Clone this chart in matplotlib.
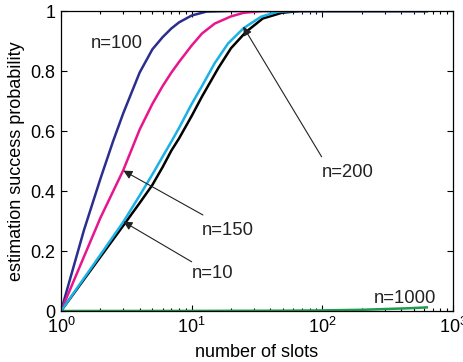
import matplotlib
matplotlib.use("Agg")
import matplotlib.pyplot as plt
from matplotlib.ticker import FixedLocator, LogLocator, NullFormatter

plt.rcParams['font.family'] = ['Liberation Sans', 'DejaVu Sans']
plt.rcParams['mathtext.fontset'] = 'custom'
plt.rcParams['mathtext.rm'] = 'Liberation Sans'
plt.rcParams['mathtext.it'] = 'Liberation Sans:italic'
plt.rcParams['mathtext.bf'] = 'Liberation Sans:bold'

# ---- data ----
blue_x = [1, 1.5, 2, 2.5, 3, 4, 5, 6, 7, 8, 10, 13, 20, 630]
blue_y = [0, 0.27, 0.44, 0.565, 0.66, 0.795, 0.872, 0.913, 0.942, 0.962, 0.985, 0.998, 1.0, 1.0]

magenta_x = [1, 2, 3, 4, 5, 6, 7, 8, 10, 12, 15, 20, 25, 35, 630]
magenta_y = [0, 0.31, 0.47, 0.605, 0.69, 0.75, 0.795, 0.83, 0.885, 0.925, 0.958, 0.982, 0.994, 1.0, 1.0]

black_x = [1, 2, 3, 4, 5, 6, 7, 8, 10, 12, 16, 20, 26, 35, 49, 67, 630]
black_y = [0, 0.18, 0.285, 0.36, 0.42, 0.48, 0.535, 0.575, 0.65, 0.715, 0.81, 0.876, 0.93, 0.975, 0.994, 1.0, 1.0]

cyan_x = [1, 2, 3, 4, 5, 6, 7, 8, 10, 12, 15, 19, 25, 34, 46, 60, 630]
cyan_y = [0, 0.187, 0.297, 0.385, 0.455, 0.515, 0.565, 0.61, 0.69, 0.75, 0.826, 0.892, 0.943, 0.981, 0.998, 1.0, 1.0]

green_x = [1, 10, 50, 100, 200, 300, 450, 630]
green_y = [0, 0.0003, 0.001, 0.002, 0.004, 0.0065, 0.009, 0.012]

y_ticks = [0, 0.2, 0.4, 0.6, 0.8, 1]
y_tick_labels = ['0', '0.2', '0.4', '0.6', '0.8', '1']
x_ticks = [1, 10, 100, 1000]
x_tick_labels = [r'$\mathregular{10^{0}}$', r'$\mathregular{10^{1}}$',
                 r'$\mathregular{10^{2}}$', r'$\mathregular{10^{3}}$']

labels = ['n=100', 'n=150', 'n=10', 'n=200', 'n=1000']
label_pos = [(1.687, 0.876), (11.9, 0.253), (10.0, 0.109), (99.3, 0.447), (248, 0.026)]
arrow_heads = [(24.8, 0.948), (3.0, 0.468), (3.0, 0.298)]
arrow_tails = [(98.8, 0.514), (12.2, 0.32), (10.0, 0.164)]

# ---- figure ----
fig = plt.figure(figsize=(4.63, 3.62), dpi=100)
ax = fig.add_axes([61/463, 51/362, 392/463, 300/362])

lw = 1.8
ax.plot(green_x, green_y, color='#1c9c4f', lw=lw)
ax.plot(blue_x, blue_y, color='#2b2e8c', lw=lw)
ax.plot(magenta_x, magenta_y, color='#e8168c', lw=lw)
ax.plot(black_x, black_y, color='black', lw=lw)
ax.plot(cyan_x, cyan_y, color='#19b1e6', lw=lw)

ax.set_xscale('log')
ax.set_xlim(1, 1000)
ax.set_ylim(0, 1)

ax.xaxis.set_major_locator(FixedLocator(x_ticks))
ax.set_xticklabels(x_tick_labels)
ax.xaxis.set_minor_locator(LogLocator(base=10, subs=range(2, 10)))
ax.xaxis.set_minor_formatter(NullFormatter())
ax.set_yticks(y_ticks)
ax.set_yticklabels(y_tick_labels)

ax.tick_params(which='both', direction='in', top=True, right=True,
               labelsize=13, width=0.8, colors='black')
ax.tick_params(which='major', length=4, pad=4)
ax.tick_params(which='minor', length=2.5)
for s in ax.spines.values():
    s.set_linewidth(0.9)
    s.set_color('black')

ax.set_xlabel('number of slots', fontsize=13, labelpad=5)
ax.set_ylabel('estimation success probability', fontsize=13, labelpad=4)

for t, (x, y) in zip(labels, label_pos):
    ax.text(x, y, t, fontsize=13.3, ha='left', va='baseline', color='#222222')

for h, tl in zip(arrow_heads, arrow_tails):
    ax.annotate('', xy=h, xytext=tl,
                arrowprops=dict(arrowstyle='-|>', color='#222222', lw=0.8,
                                mutation_scale=13, shrinkA=0, shrinkB=0))

fig.savefig('out.png', dpi=100)
